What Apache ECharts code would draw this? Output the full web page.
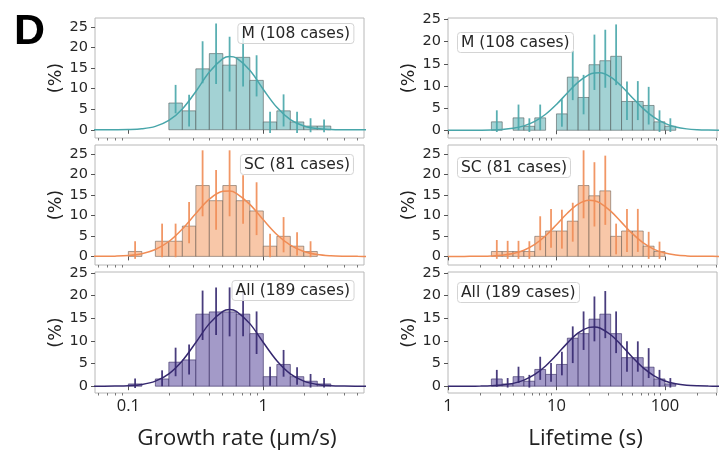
<!DOCTYPE html>
<html><head><meta charset="utf-8">
<script src="https://cdn.jsdelivr.net/npm/echarts@6/dist/echarts.min.js"></script>
<style>html,body{margin:0;padding:0;background:#fff}#c{width:728px;height:466px}</style>
</head><body><div id="c"></div>
<script>
// ---- bin edges (log-spaced, 0.1 decade) ----
const growthEdges = [0.1, 0.1259, 0.1585, 0.1995, 0.2512, 0.3162, 0.3981, 0.5012, 0.631, 0.7943, 1, 1.259, 1.585, 1.995, 2.512, 3.162];
const lifeEdges = [2.512, 3.162, 3.981, 5.012, 6.31, 7.943, 10, 12.59, 15.85, 19.95, 25.12, 31.62, 39.81, 50.12, 63.1, 79.43, 100, 125.9];

// ---- growth rate histograms (%), error bar low/high ----
const growthM      = [null, null, null, 6.5, 4.6, 14.8, 18.5, 15.7, 17.6, 12.0, 1.9, 4.6, 1.9, 0.9, 0.9];
const growthMLo    = [null, null, null, 4.0, 0.8, 11.3, 11.1, 9.3, 10.5, 8.1, -0.8, 0.8, -0.8, -0.6, -0.6];
const growthMHi    = [null, null, null, 10.9, 8.5, 21.5, 25.8, 22.6, 24.5, 18.1, 4.4, 8.6, 4.4, 2.8, 2.5];
const growthSC     = [1.2, null, 3.7, 3.7, 7.4, 17.3, 13.6, 17.3, 13.6, 11.1, 2.5, 4.9, 2.5, 1.2, null];
const growthSCLo   = [-0.6, null, -0.2, -0.2, 3.2, 9.8, 6.5, 9.8, 8.0, 5.2, -0.2, 1.0, 0.2, -0.2, null];
const growthSCHi   = [3.7, null, 8.0, 8.0, 13.3, 25.9, 21.1, 25.9, 19.8, 18.1, 5.5, 9.6, 5.9, 3.7, null];
const growthAll    = [0.5, null, 1.6, 5.3, 5.8, 15.9, 16.4, 16.4, 15.9, 11.6, 2.1, 4.8, 2.1, 1.1, 0.5];
const growthAllLo  = [-0.4, null, 0.0, 2.2, 2.6, 10.2, 11.3, 11.0, 11.0, 7.1, 0.1, 2.1, 0.3, -0.3, -0.3];
const growthAllHi  = [1.7, null, 3.5, 8.5, 9.2, 21.1, 21.8, 21.8, 20.8, 16.5, 4.3, 8.0, 4.2, 2.7, 1.8];

// ---- lifetime histograms (%), error bar low/high ----
const lifeM      = [1.9, null, 2.8, 0.9, 2.8, null, 3.7, 12.0, 7.4, 14.8, 15.7, 16.7, 6.5, 6.5, 5.6, 1.9, 0.9];
const lifeMLo    = [-0.4, null, 0.0, -0.4, 0.0, null, 0.8, 6.8, 3.6, 9.1, 9.6, 10.2, 2.3, 2.3, 1.3, -0.4, -0.4];
const lifeMHi    = [4.5, null, 5.8, 2.7, 5.8, null, 7.0, 17.9, 12.5, 21.6, 22.7, 23.9, 11.0, 11.1, 9.8, 4.5, 2.7];
const lifeSC     = [1.2, 1.2, 1.2, 1.2, 4.9, 6.2, 6.2, 8.6, 17.3, 14.8, 16.0, 4.9, 6.2, 6.2, 2.5, 1.2, null];
const lifeSCLo   = [-0.6, -0.6, -0.6, -0.6, 1.5, 2.1, 1.9, 3.6, 9.3, 7.3, 7.7, 0.5, 1.1, 1.1, -0.6, -0.6, null];
const lifeSCHi   = [4.0, 3.8, 3.8, 3.7, 9.8, 11.6, 11.4, 13.1, 25.9, 23.0, 24.6, 8.0, 11.6, 11.6, 6.0, 3.6, null];
const lifeAll    = [1.6, 0.5, 2.1, 1.1, 3.7, 2.6, 4.8, 10.6, 11.6, 14.8, 15.9, 11.6, 6.3, 6.3, 4.2, 1.6, 0.5];
const lifeAllLo  = [-0.1, -0.3, 0.7, -0.3, 1.4, 1.0, 2.4, 5.1, 8.0, 9.9, 10.6, 7.3, 3.2, 3.2, 1.8, -0.1, -0.3];
const lifeAllHi  = [3.6, 1.8, 4.3, 2.5, 6.5, 5.1, 7.6, 13.2, 16.5, 19.8, 21.0, 16.5, 9.9, 9.9, 8.4, 3.6, 1.8];

// ---- fitted curves, read as points ----
const growthFitX = [0.0501, 0.0631, 0.0794, 0.1, 0.1259, 0.1585, 0.1995, 0.2512, 0.3162, 0.3981, 0.5012, 0.5623, 0.631, 0.7943, 1, 1.259, 1.585, 1.995, 2.512, 3.162, 3.981, 5.012, 6.31];
const fitGrowthM   = [0.0003, 0.002, 0.012, 0.061, 0.25, 0.83, 2.26, 5.07, 9.31, 14.01, 17.27, 17.8, 17.44, 14.44, 9.79, 5.44, 2.47, 0.92, 0.28, 0.07, 0.014, 0.002, 0.0003];
const fitGrowthSC  = [0.003, 0.016, 0.065, 0.225, 0.67, 1.69, 3.64, 6.70, 10.48, 13.98, 15.88, 15.95, 15.39, 12.70, 8.93, 5.35, 2.73, 1.19, 0.44, 0.14, 0.037, 0.009, 0.002];
const fitGrowthAll = [0.001, 0.005, 0.026, 0.108, 0.381, 1.12, 2.74, 5.63, 9.64, 13.81, 16.52, 16.9, 16.52, 13.81, 9.64, 5.63, 2.74, 1.12, 0.381, 0.108, 0.026, 0.005, 0.001];
const lifeFitX = [1, 1.259, 1.585, 1.995, 2.512, 3.162, 3.981, 5.012, 6.31, 7.943, 10, 12.59, 15.85, 19.95, 22.39, 25.12, 31.62, 39.81, 50.12, 63.1, 79.43, 100, 125.9, 158.5, 199.5, 251.2, 316.2];
const fitLifeM   = [0.0003, 0.0014, 0.006, 0.02, 0.063, 0.176, 0.442, 0.996, 2.01, 3.61, 5.83, 8.41, 10.86, 12.55, 12.94, 12.97, 12.0, 9.93, 7.36, 4.88, 2.89, 1.54, 0.73, 0.31, 0.118, 0.040, 0.012];
const fitLifeSC  = [0.0005, 0.0023, 0.009, 0.032, 0.10, 0.277, 0.684, 1.50, 2.92, 5.04, 7.74, 10.54, 12.75, 13.69, 13.57, 13.06, 11.05, 8.31, 5.55, 3.29, 1.73, 0.81, 0.335, 0.123, 0.040, 0.012, 0.003];
const fitLifeAll = [0.0006, 0.0026, 0.0096, 0.032, 0.097, 0.26, 0.625, 1.35, 2.59, 4.47, 6.89, 9.51, 11.75, 12.98, 13.09, 12.84, 11.36, 9.0, 6.38, 4.04, 2.30, 1.16, 0.53, 0.215, 0.078, 0.026, 0.007];

// ---- ticks / labels ----
const yTicks = [0, 5, 10, 15, 20, 25];
const growthMajor = [0.1, 1];
const growthMinor = [0.06, 0.07, 0.08, 0.09, 0.2, 0.3, 0.4, 0.5, 0.6, 0.7, 0.8, 0.9, 2, 3, 4, 5];
const lifeMajor = [1, 10, 100];
const lifeMinor = [2, 3, 4, 5, 6, 7, 8, 9, 20, 30, 40, 50, 60, 70, 80, 90, 200, 300];
const legendNames = ['M (108 cases)', 'SC (81 cases)', 'All (189 cases)'];
const xNames = ['Growth rate (µm/s)', 'Lifetime (s)'];

// ---- styling / layout ----
const palettes = {
  teal:   {fill: '#a3d2d4', edge: 'rgba(70,80,80,0.55)', line: '#48a6aa'},
  orange: {fill: '#f8c7a8', edge: 'rgba(90,75,65,0.5)', line: '#f08c55'},
  purple: {fill: '#a39ac8', edge: 'rgba(50,38,95,0.6)', line: '#35286f'}
};
const cols = [
  {left: 95, xmin: 0.0566, xmax: 5.57, edges: growthEdges, fitX: growthFitX, major: growthMajor, minor: growthMinor},
  {left: 448, xmin: 1, xmax: 302, edges: lifeEdges, fitX: lifeFitX, major: lifeMajor, minor: lifeMinor}
];
const rows = [{top: 18, height: 120}, {top: 145, height: 120}, {top: 272, height: 121}];
const panels = [
  {row: 0, col: 0, v: growthM, lo: growthMLo, hi: growthMHi, fit: fitGrowthM, pal: 'teal', y: [-2.0, 27.15], leg: {right: 374, top: 23}},
  {row: 0, col: 1, v: lifeM, lo: lifeMLo, hi: lifeMHi, fit: fitLifeM, pal: 'teal', y: [-1.75, 25.35], leg: {left: 457, top: 32}},
  {row: 1, col: 0, v: growthSC, lo: growthSCLo, hi: growthSCHi, fit: fitGrowthSC, pal: 'orange', y: [-2.1, 27.2], leg: {right: 374, top: 154}},
  {row: 1, col: 1, v: lifeSC, lo: lifeSCLo, hi: lifeSCHi, fit: fitLifeSC, pal: 'orange', y: [-2.1, 27.2], leg: {left: 457, top: 157}},
  {row: 2, col: 0, v: growthAll, lo: growthAllLo, hi: growthAllHi, fit: fitGrowthAll, pal: 'purple', y: [-1.5, 25.2], leg: {right: 374, top: 280}},
  {row: 2, col: 1, v: lifeAll, lo: lifeAllLo, hi: lifeAllHi, fit: fitLifeAll, pal: 'purple', y: [-1.5, 25.2], leg: {left: 457, top: 282}}
];

const grid = [], xAxis = [], yAxis = [], series = [], title = [];
panels.forEach((p, i) => {
  const c = cols[p.col], r = rows[p.row], pal = palettes[p.pal];
  const bottomRow = p.row === 2;
  grid.push({left: c.left, top: r.top, width: 269, height: r.height, show: true,
    borderColor: '#b8b8b8', borderWidth: 1, backgroundColor: 'transparent', outerBoundsMode: 'none'});
  xAxis.push({
    type: 'log', logBase: 10, gridIndex: i, min: c.xmin, max: c.xmax,
    axisLine: {show: false}, splitLine: {show: false},
    axisTick: {show: true, length: 4, lineStyle: {color: '#555', width: 1}, customValues: c.major},
    axisLabel: {show: bottomRow, customValues: c.major, margin: 5, fontFamily: 'Open Sans', fontSize: 16.5, color: '#222',
      formatter: v => String(+v.toPrecision(3))},
    name: bottomRow ? xNames[p.col] : '', nameLocation: 'middle', nameGap: 34,
    nameTextStyle: {fontFamily: 'Open Sans', fontSize: 22.5, color: '#222', padding: [0, 0, 0, p.col === 0 ? 15 : 6]}
  });
  xAxis.push({
    type: 'log', logBase: 10, gridIndex: i, min: c.xmin, max: c.xmax, position: 'bottom', offset: 0,
    axisLine: {show: false}, splitLine: {show: false}, axisLabel: {show: false},
    axisTick: {show: true, length: 2.5, lineStyle: {color: '#777', width: 1}, customValues: c.minor}
  });
  yAxis.push({
    type: 'value', gridIndex: i, min: p.y[0], max: p.y[1],
    axisLine: {show: false}, splitLine: {show: false},
    axisTick: {show: true, length: 4, lineStyle: {color: '#555'}, customValues: yTicks},
    axisLabel: {customValues: yTicks, margin: 7, fontFamily: 'DejaVu Sans', fontSize: 14.5, color: '#262626'},
    name: '(%)', nameLocation: 'middle', nameGap: 30, nameRotate: 90,
    nameTextStyle: {fontFamily: 'DejaVu Sans', fontSize: 17.5, color: '#222'}
  });
  const barData = [], errData = [];
  p.v.forEach((val, k) => {
    if (val === null) return;
    const a = c.edges[k], b = c.edges[k + 1];
    barData.push([a, b, val]);
    errData.push([Math.sqrt(a * b), p.lo[k], p.hi[k]]);
  });
  series.push({
    type: 'custom', xAxisIndex: 2 * i, yAxisIndex: i, data: barData, z: 2, silent: true, clip: true,
    encode: {x: [0, 1], y: 2},
    renderItem: (params, api) => {
      const p0 = api.coord([api.value(0), api.value(2)]);
      const p1 = api.coord([api.value(1), 0]);
      return {type: 'rect', shape: {x: p0[0], y: p0[1], width: p1[0] - p0[0], height: p1[1] - p0[1]},
        style: {fill: pal.fill, stroke: pal.edge, lineWidth: 1}};
    }
  });
  series.push({
    type: 'line', xAxisIndex: 2 * i, yAxisIndex: i, z: 3, silent: true,
    data: c.fitX.map((x, j) => [x, p.fit[j]]), smooth: 0.35, showSymbol: false,
    lineStyle: {color: pal.line, width: 1.5}
  });
  series.push({
    type: 'custom', xAxisIndex: 2 * i, yAxisIndex: i, data: errData, z: 4, silent: true,
    encode: {x: 0, y: [1, 2]},
    renderItem: (params, api) => {
      const q0 = api.coord([api.value(0), api.value(1)]);
      const q1 = api.coord([api.value(0), api.value(2)]);
      return {type: 'line', shape: {x1: q0[0], y1: q0[1], x2: q1[0], y2: q1[1]},
        style: {stroke: pal.line, lineWidth: 1.8, opacity: 0.9}};
    }
  });
  title.push(Object.assign({
    text: legendNames[p.row], z: 10,
    textStyle: {fontFamily: 'DejaVu Sans', fontSize: 15.5, fontWeight: 'normal', color: '#262626', lineHeight: 17},
    backgroundColor: 'rgba(255,255,255,0.8)', borderColor: '#d4d4d4', borderWidth: 1, borderRadius: 3, padding: [2, 4]
  }, p.leg));
});

const chart = echarts.init(document.getElementById('c'), null, {renderer: 'canvas'});
chart.setOption({
  animation: false,
  backgroundColor: '#fff',
  title, grid, xAxis, yAxis, series,
  graphic: [{type: 'text', left: 14, top: 11, z: 10,
    style: {text: 'D', font: 'bold 43px "Liberation Sans"', fill: '#000'}}]
});
</script></body></html>
